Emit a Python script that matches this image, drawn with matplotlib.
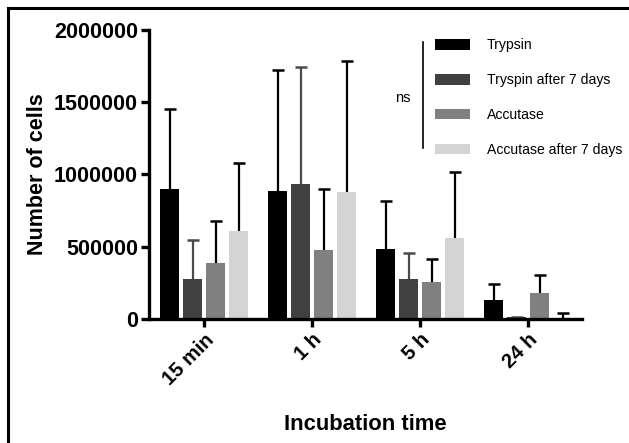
import matplotlib
matplotlib.use("Agg")
import matplotlib.pyplot as plt
import numpy as np
from matplotlib.lines import Line2D

plt.rcParams['font.family'] = ['Liberation Sans', 'DejaVu Sans']

# data
times = ['15 min', '1 h', '5 h', '24 h']
series = ['Trypsin', 'Tryspin after 7 days', 'Accutase', 'Accutase after 7 days']
trypsin = [901000, 888000, 487000, 134000]
trypsin_sd = [552000, 835000, 332000, 108000]
trypsin7 = [275000, 934000, 277000, 12000]
trypsin7_sd = [272000, 808000, 178000, 0]
accutase = [388000, 477000, 256000, 178000]
accutase_sd = [292000, 423000, 159000, 129000]
accutase7 = [611000, 881000, 563000, 10000]
accutase7_sd = [466000, 907000, 452000, 33000]

means = [trypsin, trypsin7, accutase, accutase7]
sds = [trypsin_sd, trypsin7_sd, accutase_sd, accutase7_sd]
colors = ['#000000', '#404040', '#808080', '#d4d4d4']
errcolors = ['#000000', '#4a4a4a', '#000000', '#000000']

fig = plt.figure(figsize=(6.29, 4.43), dpi=100)
ax = fig.add_axes([0.2369, 0.2799, 0.6884, 0.6524])

x = np.arange(len(times))
step = 0.213
width = 0.176
for i in range(4):
    pos = x + (i - 1.5) * step
    m = np.array(means[i])
    top = m + np.array(sds[i])
    ax.bar(pos, m, width, color=colors[i], label=series[i], zorder=3)
    # upper error bar only
    ax.vlines(pos, m, top, color=errcolors[i], lw=1.6, zorder=2)
    ax.plot(pos, top, ls='none', marker='_', ms=8, mew=1.8,
            color=errcolors[i], zorder=2)

ax.set_xlim(-0.51, 3.5)
ax.set_ylim(0, 2000000)
ax.set_yticks([0, 500000, 1000000, 1500000, 2000000])
ax.set_yticklabels(['0', '500000', '1000000', '1500000', '2000000'],
                   fontsize=15.5, fontweight='bold')
ax.set_xticks(x)
ax.set_xticklabels(times, rotation=45, ha='right', rotation_mode='anchor',
                   fontsize=14.5, fontweight='bold')
ax.set_ylabel('Number of cells', fontsize=15.5, fontweight='bold', labelpad=4)
ax.set_xlabel('Incubation time', fontsize=15.8, fontweight='bold', labelpad=18)

for s in ['top', 'right']:
    ax.spines[s].set_visible(False)
for s in ['left', 'bottom']:
    ax.spines[s].set_linewidth(2.4)
    ax.spines[s].set_zorder(4)
ax.tick_params(width=2.4, length=6, pad=2)

ax.legend(loc='upper left', bbox_to_anchor=(435 / 629, 1 - 38.5 / 443),
          bbox_transform=fig.transFigure, frameon=False, fontsize=10.1,
          handlelength=2.5, handleheight=0.75, labelspacing=1.48,
          handletextpad=1.2, borderpad=0, borderaxespad=0)

# ns bracket
fig.add_artist(Line2D([423 / 629, 423 / 629], [1 - 41.7 / 443, 1 - 147.7 / 443],
                      color='black', lw=1.2, transform=fig.transFigure))
fig.text(403 / 629, 1 - 98 / 443, 'ns', fontsize=10.5, ha='center', va='center')

# image border (left and top)
fig.add_artist(Line2D([7.5 / 629, 7.5 / 629], [0, 1 - 7.5 / 443], color='black',
                      lw=2.2, transform=fig.transFigure))
fig.add_artist(Line2D([7.5 / 629, 1], [1 - 7.5 / 443, 1 - 7.5 / 443], color='black',
                      lw=2.2, transform=fig.transFigure))

plt.savefig('out.png', dpi=100)
